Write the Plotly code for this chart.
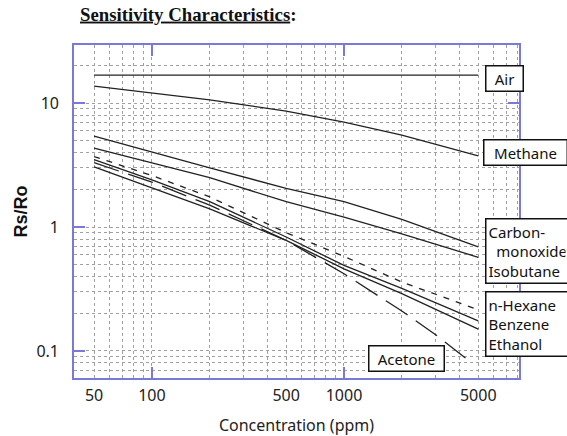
import numpy as np
import plotly.graph_objects as go

# ---- data ----
conc = [50, 100, 200, 500, 1000, 2000, 5000]
air = [16.8, 16.8, 16.8, 16.8, 16.8, 16.8, 16.8]
methane = [13.7, 12.0, 10.6, 8.6, 7.0, 5.5, 3.75]
carbon_monoxide = [5.4, 4.0, 3.0, 2.05, 1.6, 1.15, 0.69]
isobutane = [4.33, 3.28, 2.5, 1.6, 1.2, 0.88, 0.57]
n_hexane = [3.7, 2.6, 1.75, 0.9, 0.58, 0.36, 0.215]
benzene = [3.5, 2.4, 1.6, 0.83, 0.49, 0.32, 0.175]
ethanol = [3.05, 2.07, 1.4, 0.78, 0.46, 0.29, 0.15]
acetone_conc = [50, 100, 200, 500, 1000, 2000, 3000, 4500]
acetone = [3.3, 2.3, 1.5, 0.78, 0.42, 0.21, 0.135, 0.083]

x_grid = [50, 60, 70, 80, 90, 100, 200, 300, 400, 500, 600, 700, 800, 900,
          1000, 2000, 3000, 4000, 5000, 6000, 7000, 8000]
x_labels = {50: "50", 100: "100", 500: "500", 1000: "1000", 5000: "5000"}
y_grid = [0.07, 0.08, 0.09, 0.1, 0.2, 0.3, 0.4, 0.5, 0.6, 0.7, 0.8, 0.9,
          1, 2, 3, 4, 5, 6, 7, 8, 9, 10, 20]
y_labels = {0.1: "0.1", 1: "1", 10: "10"}
x_major = [100, 1000]
y_major = [0.1, 1, 10]

x_range = [np.log10(39.3), np.log10(8150)]
y_range = [-1.218, 1.468]

FRAME = "#7a7ad6"
LINE = "#222222"

fig = go.Figure()

series = [
    (conc, air, "solid"),
    (conc, methane, "solid"),
    (conc, carbon_monoxide, "solid"),
    (conc, isobutane, "solid"),
    (conc, n_hexane, "6px,7px"),
    (conc, benzene, "solid"),
    (conc, ethanol, "solid"),
    (acetone_conc, acetone, "26px,10px"),
]
for xs, ys, dash in series:
    fig.add_trace(go.Scatter(x=xs, y=ys, mode="lines",
                             line=dict(color=LINE, width=1.3, dash=dash),
                             showlegend=False, hoverinfo="skip"))

# invisible trace for the overlay (frame/tick) axes
fig.add_trace(go.Scatter(x=[], y=[], xaxis="x2", yaxis="y2", showlegend=False))

grid = dict(showgrid=True, gridcolor="#a0a0a0", griddash="dot", gridwidth=1)
tickfont = dict(family="Noto Sans", size=16, color="#222")

fig.update_layout(
    width=567, height=436,
    margin=dict(l=74, r=48, t=45, b=58, autoexpand=False),
    paper_bgcolor="white", plot_bgcolor="white",
    font=dict(family="Noto Sans", color="#222"),
    title=dict(text="<b><u>Sensitivity Characteristics</u>:</b>",
               font=dict(family="Liberation Serif", size=18.8, color="#111"),
               x=80 / 567, xanchor="left", xref="container",
               y=1 - 14 / 436, yanchor="middle", yref="container"),
    xaxis=dict(type="log", range=x_range, tickmode="array", automargin=False,
               tickvals=x_grid, ticktext=[x_labels.get(v, "") for v in x_grid],
               ticks="", showline=False, zeroline=False, tickfont=tickfont,
               ticklabelstandoff=6,
               title=dict(text="Concentration (ppm)", standoff=17,
                          font=dict(family="Noto Sans", size=16, color="#222")),
               **grid),
    yaxis=dict(type="log", range=y_range, tickmode="array", automargin=False,
               tickvals=y_grid, ticktext=[y_labels.get(v, "") for v in y_grid],
               ticks="", showline=False, zeroline=False, tickfont=tickfont,
               ticklabelstandoff=14,
               title=dict(text="<b>Rs/Ro</b>", standoff=4,
                          font=dict(family="Liberation Sans", size=18, color="#111")),
               **grid),
    xaxis2=dict(type="log", range=x_range, overlaying="x", anchor="y2", side="bottom",
                tickmode="array", tickvals=x_major, ticks="inside", ticklen=11,
                tickcolor=FRAME, tickwidth=1.5, showticklabels=False, showgrid=False,
                zeroline=False, showline=True, linecolor=FRAME, linewidth=1.5,
                mirror="ticks", automargin=False),
    yaxis2=dict(type="log", range=y_range, overlaying="y", anchor="x2", side="left",
                tickmode="array", tickvals=y_major, ticks="inside", ticklen=11,
                tickcolor=FRAME, tickwidth=1.5, showticklabels=False, showgrid=False,
                zeroline=False, showline=True, linecolor=FRAME, linewidth=1.5,
                mirror="ticks", automargin=False),
)

def px_x(px):
    return (px - 74) / 445.0

def px_y(py):
    return 1 - (py - 45) / 333.0

box = dict(xref="paper", yref="paper", showarrow=False, bordercolor="#111",
           borderwidth=1.5, bgcolor="white", borderpad=2,
           font=dict(family="Noto Sans", size=15, color="#111"))

fig.add_annotation(text="Air", x=px_x(485), y=px_y(78.5), xanchor="left",
                   yanchor="middle", width=32, align="center", **box)
fig.add_annotation(text="Methane", x=px_x(483), y=px_y(152.5), xanchor="left",
                   yanchor="middle", width=78, align="center", **box)
fig.add_annotation(text="Carbon-<br>\u00a0\u00a0monoxide<br>Isobutane", x=px_x(485),
                   y=px_y(251), xanchor="left", yanchor="middle", width=77,
                   align="left", **box)
fig.add_annotation(text="n-Hexane<br>Benzene<br>Ethanol", x=px_x(485), y=px_y(324),
                   xanchor="left", yanchor="middle", width=77, align="left", **box)
fig.add_annotation(text="Acetone", x=px_x(406.5), y=px_y(358), xanchor="center",
                   yanchor="middle", width=70, align="center", **box)

fig.write_html("out.html", config={"displayModeBar": False},
               post_script="document.body.style.margin='0px';"
                           "document.body.style.overflow='hidden';")
